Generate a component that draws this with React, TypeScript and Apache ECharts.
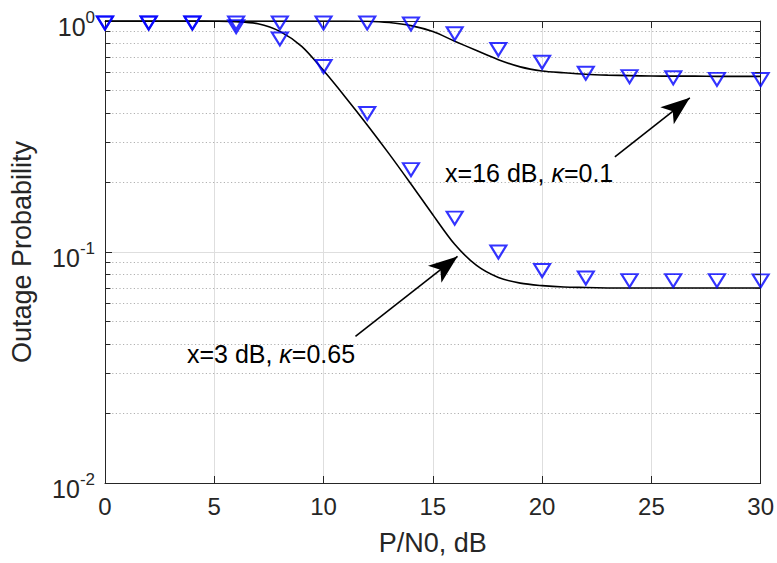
import React, { useEffect, useRef } from 'react';
import * as echarts from 'echarts';

// Simulation points (markers)
const snrSim = [0, 2, 4, 6, 8, 10, 12, 14, 16, 18, 20, 22, 24, 26, 28, 30];
const simK01 = [1, 1, 1, 1, 1, 1, 1, 0.99, 0.899, 0.768, 0.676, 0.606, 0.586, 0.579, 0.57, 0.569];
const simK065 = [1, 1, 1, 0.965, 0.853, 0.648, 0.406, 0.232, 0.143, 0.102, 0.0848, 0.0787, 0.0767, 0.0767, 0.0767, 0.0765];

// Analytical curves (solid lines)
const snrAna = [0, 1, 2, 3, 4, 5, 6, 7, 8, 9, 10, 11, 12, 13, 14, 15, 16, 17, 18, 19, 20, 21, 22, 23, 24, 25, 26, 27, 28, 29, 30];
const anaK01 = [1, 1, 1, 1, 1, 1, 1, 1, 1, 1, 1, 1, 0.998, 0.985, 0.955, 0.9, 0.818, 0.745, 0.68, 0.633, 0.608, 0.597, 0.588, 0.583, 0.58, 0.578, 0.577, 0.577, 0.576, 0.576, 0.576];
const anaK065 = [1, 1, 1, 1, 0.9995, 0.998, 0.993, 0.973, 0.902, 0.776, 0.61, 0.468, 0.355, 0.266, 0.197, 0.145, 0.108, 0.0875, 0.0776, 0.0733, 0.0715, 0.0705, 0.0702, 0.0699, 0.0698, 0.0698, 0.0698, 0.0698, 0.0698, 0.0698, 0.0698];

// Axis
const xMin = 0;
const xMax = 30;
const xStep = 5;
const yMin = 0.01;
const yMax = 1;
const yMinorValues = [0.02, 0.03, 0.04, 0.05, 0.06, 0.07, 0.08, 0.09, 0.2, 0.3, 0.4, 0.5, 0.6, 0.7, 0.8, 0.9];

// Annotations (data coordinates)
const noteK01Text = ['x=16 dB, ', 'κ', '=0.1'];
const noteK01At = [15.56, 0.2188];
const arrowK01 = [[23.33, 0.258], [26.76, 0.4648]];
const noteK065Text = ['x=3 dB, ', 'κ', '=0.65'];
const noteK065At = [3.75, 0.03634];
const arrowK065 = [[11.46, 0.0431], [16.13, 0.0957]];

const AX = '#262626';
const FONT = 'Liberation Sans, Arial, Helvetica, sans-serif';

export default function App() {
  const ref = useRef<HTMLDivElement>(null);
  useEffect(() => {
    if (!ref.current) return;
    const chart = echarts.init(ref.current, undefined, { renderer: 'svg' });
    const zip = (xs: number[], ys: number[]) => xs.map((x, i) => [x, ys[i]]);
    const minorTicks: any[] = [];
    yMinorValues.forEach((v) => {
      minorTicks.push([{ coord: [xMin, v] }, { coord: [xMin + 0.25, v] }]);
      minorTicks.push([{ coord: [xMax - 0.25, v] }, { coord: [xMax, v] }]);
    });
    const noteLabel = (parts: string[]) => ({
      show: true,
      position: 'right',
      distance: 0,
      formatter: `{n|${parts[0]}}{k|${parts[1]}}{n|${parts[2]}}`,
      rich: {
        n: { fontSize: 25, color: '#000', fontFamily: FONT },
        k: { fontSize: 25, color: '#000', fontFamily: FONT, fontStyle: 'italic' },
      },
    });
    // arrowhead whose tip sits at the centre of the symbol box
    const arrowPath = 'path://M10.5,0 L10.5,0 M10.5,28 L21,56 L10.5,49 L0,56 Z';
    const arrowMarkLine = (seg: number[][]) => ({
      silent: true,
      symbol: ['none', arrowPath],
      symbolSize: 58,
      symbolKeepAspect: true,
      label: { show: false },
      lineStyle: { color: '#000', width: 1.6, type: 'solid' },
      itemStyle: { color: '#000' },
      data: [[{ coord: seg[0] }, { coord: seg[1] }]],
    });
    const option: any = {
      animation: false,
      backgroundColor: '#fff',
      textStyle: { fontFamily: FONT },
      grid: { left: 102, right: 16, top: 21, bottom: 80, containLabel: false },
      xAxis: [
        {
          type: 'value',
          min: xMin,
          max: xMax,
          interval: xStep,
          name: 'P/N0, dB',
          nameLocation: 'middle',
          nameGap: 46,
          nameTextStyle: { fontSize: 27, color: AX, fontFamily: FONT },
          axisLine: { show: true, onZero: false, lineStyle: { color: AX, width: 1 } },
          axisTick: { show: true, inside: true, length: 7, lineStyle: { color: AX } },
          axisLabel: { fontSize: 24, color: AX, margin: 11, fontFamily: FONT },
          splitLine: { show: true, lineStyle: { color: '#dedede', width: 1 } },
        },
        {
          type: 'value',
          position: 'top',
          min: xMin,
          max: xMax,
          interval: xStep,
          axisLine: { show: true, onZero: false, lineStyle: { color: AX, width: 1 } },
          axisTick: { show: true, inside: true, length: 7, lineStyle: { color: AX } },
          axisLabel: { show: false },
          splitLine: { show: false },
        },
      ],
      yAxis: [
        {
          type: 'log',
          logBase: 10,
          min: yMin,
          max: yMax,
          name: 'Outage Probability',
          nameLocation: 'middle',
          nameGap: 70,
          nameTextStyle: { fontSize: 27, color: AX, fontFamily: FONT },
          axisLine: { show: true, onZero: false, lineStyle: { color: AX, width: 1 } },
          axisTick: { show: true, inside: true, length: 7, lineStyle: { color: AX } },
          axisLabel: {
            margin: 10,
            color: AX,
            formatter: (v: number) => `{b|10}{s|${Math.round(Math.log10(v))}}`,
            rich: {
              b: { fontSize: 25, lineHeight: 25, padding: [11, 0, 0, 0], color: AX, fontFamily: FONT },
              s: { fontSize: 17, lineHeight: 17, verticalAlign: 'top', color: AX, fontFamily: FONT },
            },
          },
          splitLine: { show: true, lineStyle: { color: '#dedede', width: 1 } },
        },
        {
          type: 'log',
          logBase: 10,
          position: 'right',
          min: yMin,
          max: yMax,
          axisLine: { show: true, onZero: false, lineStyle: { color: AX, width: 1 } },
          axisTick: { show: true, inside: true, length: 7, lineStyle: { color: AX } },
          axisLabel: { show: false },
          splitLine: { show: false },
        },
      ],
      series: [
        {
          name: 'grid-minor',
          type: 'line',
          data: [],
          markLine: {
            silent: true,
            z: 1,
            symbol: 'none',
            label: { show: false },
            lineStyle: { color: '#b0b0b0', width: 1, type: [1.2, 2.4] },
            data: yMinorValues.map((v) => ({ yAxis: v })),
          },
        },
        {
          name: 'minor-ticks',
          type: 'line',
          data: [],
          z: 6,
          markLine: {
            silent: true,
            symbol: 'none',
            label: { show: false },
            lineStyle: { color: AX, width: 1, type: 'solid' },
            data: minorTicks,
          },
        },
        {
          name: 'Analytical κ=0.65',
          type: 'line',
          data: zip(snrAna, anaK065),
          showSymbol: false,
          smooth: 0.3,
          lineStyle: { color: '#000', width: 1.6 },
          z: 3,
          markLine: arrowMarkLine(arrowK065),
          markPoint: {
            silent: true,
            symbol: 'circle',
            symbolSize: 0,
            itemStyle: { color: 'rgba(0,0,0,0)' },
            label: noteLabel(noteK065Text),
            data: [{ coord: noteK065At }],
          },
        },
        {
          name: 'Analytical κ=0.1',
          type: 'line',
          data: zip(snrAna, anaK01),
          showSymbol: false,
          smooth: 0.3,
          lineStyle: { color: '#000', width: 1.6 },
          z: 3,
          markLine: arrowMarkLine(arrowK01),
          markPoint: {
            silent: true,
            symbol: 'circle',
            symbolSize: 0,
            itemStyle: { color: 'rgba(0,0,0,0)' },
            label: noteLabel(noteK01Text),
            data: [{ coord: noteK01At }],
          },
        },
        {
          name: 'Simulation κ=0.65',
          type: 'scatter',
          data: zip(snrSim, simK065),
          symbol: 'triangle',
          symbolRotate: 180,
          symbolSize: [16, 13],
          symbolOffset: [0, 2],
          itemStyle: { color: 'rgba(0,0,0,0)', borderColor: '#0000ff', borderWidth: 2.1 },
          z: 4,
        },
        {
          name: 'Simulation κ=0.1',
          type: 'scatter',
          data: zip(snrSim, simK01),
          symbol: 'triangle',
          symbolRotate: 180,
          symbolSize: [16, 13],
          symbolOffset: [0, 2],
          itemStyle: { color: 'rgba(0,0,0,0)', borderColor: '#0000ff', borderWidth: 2.1 },
          z: 4,
        },
      ],
    };
    chart.setOption(option);
    return () => chart.dispose();
  }, []);
  return <div ref={ref} style={{ position: 'absolute', left: 0, top: 0, width: 777, height: 563 }} />;
}
